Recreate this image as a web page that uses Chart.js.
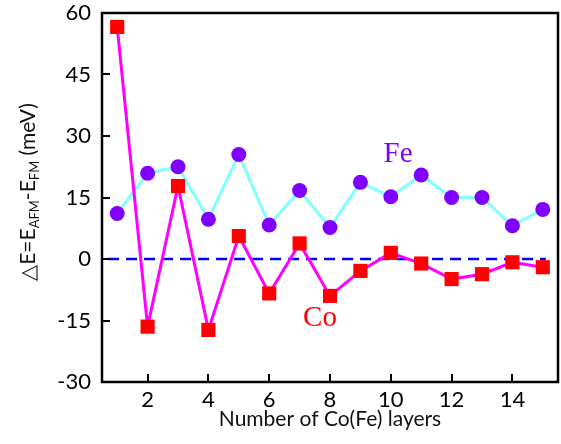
<!DOCTYPE html>
<html>
<head>
<meta charset="utf-8">
<script src="https://cdn.jsdelivr.net/npm/chart.js@4"></script>
<style>
  html, body { margin: 0; padding: 0; background: #fff; }
  #wrap { width: 561px; height: 444px; }
</style>
</head>
<body>
<div id="wrap"><canvas id="chart" width="561" height="444"></canvas></div>
<script>
const layers = [1, 2, 3, 4, 5, 6, 7, 8, 9, 10, 11, 12, 13, 14, 15];
const coValues = [56.6, -16.5, 17.8, -17.3, 5.6, -8.4, 3.8, -9.0, -2.9, 1.5, -1.1, -4.9, -3.7, -0.8, -2.0];
const feValues = [11.1, 20.9, 22.5, 9.7, 25.5, 8.3, 16.7, 7.7, 18.7, 15.2, 20.5, 15.0, 15.0, 8.1, 12.1];
const zeroLineX = [0.7, 15.1];
const xTicks = [2, 4, 6, 8, 10, 12, 14];
const yTicks = [-30, -15, 0, 15, 30, 45, 60];

const tickFont = { family: 'Lato', size: 22 };

// frame, inward ticks, series labels, axis titles (y one has subscripts)
const decorPlugin = {
    id: 'decor',
    afterDraw(chart) {
        const ctx = chart.ctx;
        const { left, right, top, bottom } = chart.chartArea;
        const xs = chart.scales.x, ys = chart.scales.y;
        ctx.save();
        ctx.strokeStyle = '#000';
        ctx.lineWidth = 2.5;
        ctx.strokeRect(left, top, right - left, bottom - top);
        ctx.lineWidth = 2;
        ctx.beginPath();
        xTicks.forEach(v => {
            const px = Math.round(xs.getPixelForValue(v));
            ctx.moveTo(px, bottom);
            ctx.lineTo(px, bottom - 8);
        });
        yTicks.forEach(v => {
            const py = Math.round(ys.getPixelForValue(v));
            ctx.moveTo(left, py);
            ctx.lineTo(left + 8, py);
        });
        ctx.stroke();

        ctx.font = '29px "Liberation Serif"';
        ctx.textAlign = 'center';
        ctx.textBaseline = 'middle';
        ctx.fillStyle = '#7f00ff';
        ctx.fillText('Fe', 398, 154);
        ctx.fillStyle = '#ff0000';
        ctx.fillText('Co', 320, 318);

        ctx.fillStyle = '#111';
        ctx.font = '21px Lato';
        ctx.textBaseline = 'alphabetic';
        ctx.fillText('Number of Co(Fe) layers', 330, 426);

        // y title: △E=E_AFM-E_FM (meV)
        const parts = [
            { t: '\u25B3E=E', sub: false },
            { t: 'AFM', sub: true },
            { t: '-E', sub: false },
            { t: 'FM', sub: true },
            { t: ' (meV)', sub: false }
        ];
        const big = '21px Lato', small = '13px Lato';
        let total = 0;
        parts.forEach(p => { ctx.font = p.sub ? small : big; p.w = ctx.measureText(p.t).width; total += p.w; });
        ctx.translate(28, 192);
        ctx.rotate(-Math.PI / 2);
        ctx.textAlign = 'left';
        let x = -total / 2;
        parts.forEach(p => {
            ctx.font = p.sub ? small : big;
            ctx.fillText(p.t, x, p.sub ? 11 : 7);
            x += p.w;
        });
        ctx.restore();
    }
};

// keep tick labels from pushing the plot area around
const noPad = s => { s.paddingTop = 0; s.paddingBottom = 0; s.paddingLeft = 0; s.paddingRight = 0; };

new Chart(document.getElementById('chart'), {
    type: 'line',
    data: {
        datasets: [
            {
                label: 'zero',
                data: zeroLineX.map(x => ({ x: x, y: 0 })),
                borderColor: '#0000ff',
                borderWidth: 2.5,
                borderDash: [11, 7],
                pointRadius: 0,
                order: 3
            },
            {
                label: 'Fe',
                data: layers.map((x, i) => ({ x: x, y: feValues[i] })),
                borderColor: '#80ffff',
                borderWidth: 3,
                pointStyle: 'circle',
                pointRadius: 7.5,
                pointBackgroundColor: '#7f00ff',
                pointBorderWidth: 0,
                order: 2
            },
            {
                label: 'Co',
                data: layers.map((x, i) => ({ x: x, y: coValues[i] })),
                borderColor: '#ff00ff',
                borderWidth: 3,
                pointStyle: 'rect',
                pointRadius: 10,
                pointBackgroundColor: '#ff0000',
                pointBorderWidth: 0,
                order: 1
            }
        ]
    },
    options: {
        responsive: false,
        animation: false,
        events: [],
        layout: { autoPadding: false, padding: { top: 13, right: 3, left: 0, bottom: 0 } },
        plugins: { legend: { display: false }, tooltip: { enabled: false } },
        scales: {
            x: {
                type: 'linear',
                min: 0.5,
                max: 15.5,
                afterBuildTicks: s => { s.ticks = xTicks.map(v => ({ value: v })); },
                afterFit: s => { s.height = 62; noPad(s); },
                grid: { display: false },
                border: { display: false },
                ticks: { font: tickFont, color: '#000', padding: -3 }
            },
            y: {
                type: 'linear',
                min: -30,
                max: 60,
                afterBuildTicks: s => { s.ticks = yTicks.map(v => ({ value: v })); },
                afterFit: s => { s.width = 102; noPad(s); },
                grid: { display: false },
                border: { display: false },
                ticks: { font: tickFont, color: '#000', padding: 3 }
            }
        }
    },
    plugins: [decorPlugin]
});
</script>
</body>
</html>
